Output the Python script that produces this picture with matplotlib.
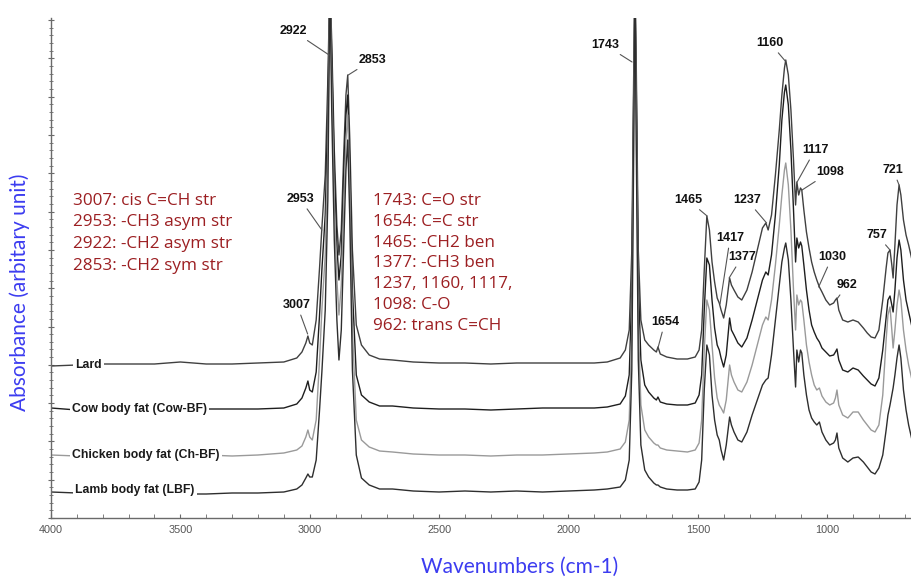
import matplotlib
matplotlib.use("Agg")
import matplotlib.pyplot as plt
from matplotlib.ticker import MultipleLocator, AutoMinorLocator

# ===== data (absorbance, arbitrary units) =====
wavenumber = [4000, 3900, 3800, 3700, 3600, 3500, 3400, 3300, 3200, 3100,
              3050, 3030, 3015, 3007, 3000, 2990, 2975, 2962, 2953, 2940,
              2930, 2922, 2915, 2905, 2895, 2887, 2878, 2868, 2860, 2853,
              2845, 2835, 2820, 2800, 2770, 2730, 2680, 2600, 2500, 2400,
              2300, 2200, 2100, 2000, 1900, 1850, 1800, 1780, 1765, 1755,
              1748, 1743, 1738, 1730, 1720, 1705, 1690, 1670, 1660, 1654,
              1645, 1620, 1580, 1540, 1510, 1495, 1485, 1475, 1465, 1455,
              1445, 1435, 1425, 1417, 1410, 1400, 1390, 1377, 1370, 1360,
              1345, 1330, 1310, 1290, 1270, 1250, 1237, 1228, 1215, 1200,
              1185, 1175, 1165, 1160, 1150, 1140, 1130, 1122, 1117, 1110,
              1103, 1098, 1090, 1080, 1070, 1060, 1050, 1040, 1030, 1020,
              1005, 990, 975, 968, 962, 955, 940, 920, 900, 880,
              860, 845, 830, 815, 800, 785, 772, 765, 757, 750,
              745, 738, 730, 722, 715, 705, 695, 685, 672]

lard = [1.52, 1.53, 1.54, 1.54, 1.54, 1.56, 1.54, 1.54, 1.55, 1.56,
        1.60, 1.66, 1.75, 1.82, 1.75, 1.73, 1.98, 2.50, 2.90, 3.43,
        4.38, 5.38, 4.78, 3.68, 2.93, 2.63, 2.88, 3.68, 4.23, 4.43,
        3.78, 2.68, 1.93, 1.73, 1.63, 1.59, 1.58, 1.56, 1.55, 1.55,
        1.54, 1.55, 1.55, 1.55, 1.55, 1.56, 1.60, 1.68, 1.88, 2.68,
        4.38, 5.38, 4.58, 2.68, 1.98, 1.78, 1.73, 1.68, 1.66, 1.71,
        1.64, 1.61, 1.59, 1.59, 1.61, 1.68, 1.88, 2.48, 3.02, 2.88,
        2.56, 2.36, 2.20, 2.15, 2.08, 2.00, 2.13, 2.40, 2.33, 2.28,
        2.21, 2.18, 2.28, 2.46, 2.68, 2.90, 2.95, 2.88, 3.03, 3.43,
        3.88, 4.23, 4.50, 4.58, 4.43, 4.08, 3.58, 3.13, 3.36, 3.23,
        3.30, 3.28, 3.08, 2.86, 2.70, 2.56, 2.46, 2.38, 2.31, 2.26,
        2.18, 2.13, 2.15, 2.18, 2.20, 2.08, 1.98, 1.96, 1.98, 1.96,
        1.90, 1.85, 1.81, 1.80, 1.88, 2.18, 2.50, 2.65, 2.68, 2.53,
        2.40, 2.73, 3.13, 3.33, 3.23, 2.98, 2.83, 2.73, 2.58]

cow = [1.10, 1.08, 1.08, 1.08, 1.08, 1.09, 1.09, 1.09, 1.09, 1.10,
       1.14, 1.20, 1.30, 1.37, 1.28, 1.26, 1.46, 2.03, 2.48, 3.03,
       4.08, 5.38, 4.63, 3.48, 2.73, 2.38, 2.63, 3.48, 4.03, 4.23,
       3.53, 2.28, 1.43, 1.23, 1.16, 1.12, 1.12, 1.10, 1.09, 1.09,
       1.08, 1.09, 1.10, 1.10, 1.10, 1.11, 1.14, 1.22, 1.43, 2.28,
       4.18, 5.38, 4.38, 2.38, 1.58, 1.33, 1.26, 1.20, 1.18, 1.21,
       1.16, 1.14, 1.13, 1.13, 1.15, 1.23, 1.43, 2.08, 2.60, 2.53,
       2.18, 1.90, 1.73, 1.68, 1.60, 1.51, 1.63, 2.00, 1.88, 1.83,
       1.75, 1.71, 1.80, 1.98, 2.18, 2.38, 2.46, 2.43, 2.63, 3.03,
       3.53, 3.98, 4.26, 4.33, 4.13, 3.68, 3.08, 2.56, 2.80, 2.70,
       2.76, 2.72, 2.53, 2.28, 2.08, 1.93, 1.86, 1.80, 1.76, 1.70,
       1.66, 1.62, 1.63, 1.66, 1.69, 1.58, 1.48, 1.46, 1.50, 1.48,
       1.42, 1.38, 1.34, 1.32, 1.40, 1.68, 2.00, 2.18, 2.22, 2.13,
       2.06, 2.28, 2.60, 2.78, 2.68, 2.38, 2.18, 2.06, 1.91]

chicken = [0.63, 0.62, 0.62, 0.61, 0.62, 0.63, 0.63, 0.62, 0.63, 0.65,
           0.68, 0.72, 0.81, 0.88, 0.81, 0.78, 0.98, 1.58, 2.08, 2.63,
           3.68, 5.38, 4.38, 3.18, 2.38, 2.03, 2.33, 3.18, 3.78, 4.03,
           3.28, 1.88, 0.98, 0.78, 0.71, 0.67, 0.66, 0.64, 0.63, 0.63,
           0.62, 0.63, 0.63, 0.64, 0.65, 0.66, 0.69, 0.76, 0.98, 1.88,
           3.88, 5.38, 4.08, 1.98, 1.13, 0.88, 0.81, 0.75, 0.73, 0.73,
           0.70, 0.68, 0.67, 0.66, 0.68, 0.75, 0.98, 1.68, 2.18, 2.08,
           1.73, 1.40, 1.20, 1.13, 1.10, 1.05, 1.18, 1.53, 1.43, 1.36,
           1.28, 1.26, 1.36, 1.53, 1.73, 1.93, 2.01, 1.98, 2.18, 2.53,
           2.93, 3.23, 3.48, 3.55, 3.33, 2.88, 2.28, 1.88, 2.23, 2.13,
           2.18, 2.16, 1.98, 1.73, 1.56, 1.43, 1.33, 1.28, 1.30, 1.22,
           1.16, 1.13, 1.15, 1.20, 1.28, 1.13, 1.03, 1.00, 1.06, 1.06,
           0.98, 0.93, 0.88, 0.86, 0.93, 1.23, 1.78, 2.03, 2.11, 1.88,
           1.70, 1.88, 2.13, 2.28, 2.18, 1.88, 1.68, 1.53, 1.38]

lamb = [0.26, 0.25, 0.25, 0.24, 0.24, 0.24, 0.24, 0.25, 0.25, 0.26,
        0.29, 0.33, 0.40, 0.44, 0.41, 0.41, 0.58, 1.08, 1.46, 2.08,
        3.18, 5.38, 4.08, 2.78, 1.98, 1.58, 1.88, 2.78, 3.48, 3.78,
        2.98, 1.48, 0.63, 0.40, 0.33, 0.29, 0.29, 0.27, 0.26, 0.27,
        0.26, 0.27, 0.26, 0.27, 0.28, 0.29, 0.31, 0.38, 0.58, 1.48,
        3.58, 5.38, 3.78, 1.58, 0.73, 0.48, 0.41, 0.35, 0.33, 0.33,
        0.31, 0.29, 0.28, 0.28, 0.29, 0.36, 0.58, 1.28, 1.73, 1.63,
        1.23, 0.98, 0.83, 0.78, 0.68, 0.58, 0.73, 1.01, 0.93, 0.86,
        0.78, 0.76, 0.86, 1.03, 1.18, 1.33, 1.38, 1.40, 1.63, 1.98,
        2.33, 2.56, 2.70, 2.75, 2.58, 2.18, 1.68, 1.31, 1.68, 1.56,
        1.68, 1.65, 1.43, 1.23, 1.08, 1.00, 0.96, 0.93, 0.96, 0.86,
        0.78, 0.73, 0.75, 0.78, 0.85, 0.70, 0.60, 0.56, 0.60, 0.61,
        0.56, 0.51, 0.46, 0.44, 0.50, 0.63, 0.88, 1.03, 1.13, 1.23,
        1.30, 1.43, 1.60, 1.73, 1.60, 1.28, 1.08, 0.93, 0.78]

series_names = ["Lard", "Cow body fat (Cow-BF)", "Chicken body fat (Ch-BF)",
                "Lamb body fat (LBF)"]
series_values = [lard, cow, chicken, lamb]
series_colors = ["#404040", "#1e1e1e", "#9a9a9a", "#2e2e2e"]
name_anchor = [(3907, 1.53), (3919, 1.09), (3919, 0.63), (3907, 0.28)]

# peak label: (text, peak wavenumber, peak absorbance, label wn, label y)
peak_labels = [
    ("2922", 2925, 4.63, 3064, 4.87),
    ("2853", 2851, 4.43, 2759, 4.58),
    ("2953", 2953, 2.88, 3037, 3.19),
    ("3007", 3008, 1.84, 3049, 2.13),
    ("1743", 1754, 4.56, 1858, 4.73),
    ("1654", 1654, 1.70, 1627, 1.96),
    ("1465", 1464, 3.02, 1538, 3.18),
    ("1417", 1414, 2.14, 1375, 2.80),
    ("1377", 1379, 2.40, 1329, 2.61),
    ("1237", 1234, 2.95, 1310, 3.18),
    ("1160", 1162, 4.57, 1221, 4.75),
    ("1117", 1116, 3.36, 1047, 3.68),
    ("1098", 1097, 3.28, 989, 3.46),
    ("1030", 1033, 2.31, 981, 2.61),
    ("962", 962, 2.19, 923, 2.33),
    ("757", 757, 2.68, 807, 2.83),
    ("721", 722, 3.33, 745, 3.48),
]

assign_left = ["3007: cis C=CH str", "2953: -CH3 asym str",
               "2922: -CH2 asym str", "2853: -CH2 sym str"]
assign_right = ["1743: C=O str", "1654: C=C str", "1465: -CH2 ben",
                "1377: -CH3 ben", "1237, 1160, 1117,", "1098: C-O",
                "962: trans C=CH"]

# ===== figure =====
fig = plt.figure(figsize=(9.12, 5.77), dpi=100)
ax = fig.add_axes([51 / 912, 59 / 577, 861 / 912, 500 / 577])

for vals, col in zip(series_values, series_colors):
    ax.plot(wavenumber, vals, color=col, lw=1.0, solid_joinstyle="round")

ax.set_xlim(4000, 672)
ax.set_ylim(0, 5.0)

for name, (x, y) in zip(series_names, name_anchor):
    ax.text(x, y, name, ha="left", va="center", fontsize=8.8,
            fontweight="bold", family=["Liberation Sans", "DejaVu Sans"],
            color="#1a1a1a",
            bbox=dict(facecolor="white", edgecolor="none", pad=1.8))

for txt, px, py, tx, ty in peak_labels:
    ax.annotate(txt, xy=(px, py), xytext=(tx, ty), ha="center", va="center",
                fontsize=9, fontweight="bold",
                family=["Liberation Sans", "DejaVu Sans"], color="#111",
                arrowprops=dict(arrowstyle="-", color="#555", lw=0.8,
                                shrinkA=1, shrinkB=0))

red = "#9c1f22"
for i, line in enumerate(assign_left):
    ax.text(3915, 3.17 - i * 0.215, line, ha="left", va="center",
            fontsize=12.3, color=red, family=["Open Sans", "DejaVu Sans"])
for i, line in enumerate(assign_right):
    ax.text(2755, 3.17 - i * 0.208, line, ha="left", va="center",
            fontsize=12.3, color=red, family=["Open Sans", "DejaVu Sans"])

# axes styling
for side in ["top", "right"]:
    ax.spines[side].set_visible(False)
for side in ["left", "bottom"]:
    ax.spines[side].set_color("#6a6a6a")
    ax.spines[side].set_linewidth(1.0)

ax.xaxis.set_major_locator(MultipleLocator(500))
ax.xaxis.set_minor_locator(MultipleLocator(100))
ax.yaxis.set_major_locator(MultipleLocator(0.383))
ax.yaxis.set_minor_locator(AutoMinorLocator(5))
ax.tick_params(axis="x", which="both", direction="in", color="#6a6a6a",
               labelsize=7.8, labelcolor="#555555", pad=5, length=3)
ax.tick_params(axis="y", which="both", direction="inout", color="#6a6a6a",
               labelleft=False)
ax.tick_params(axis="y", which="major", length=5)
ax.tick_params(axis="y", which="minor", length=2.5)
for lab in ax.get_xticklabels():
    lab.set_family(["Liberation Sans Narrow", "Liberation Sans", "DejaVu Sans"])

blue = "#3c3cf0"
fig.text(520 / 912, 1 - 567 / 577, "Wavenumbers (cm-1)", ha="center",
         va="center", fontsize=15, color=blue, family=["Lato", "DejaVu Sans"])
fig.text(20 / 912, 1 - 292 / 577, "Absorbance (arbitary unit)", ha="center",
         va="center", rotation=90, fontsize=15, color=blue,
         family=["Lato", "DejaVu Sans"])

fig.savefig("out.png", dpi=100)
